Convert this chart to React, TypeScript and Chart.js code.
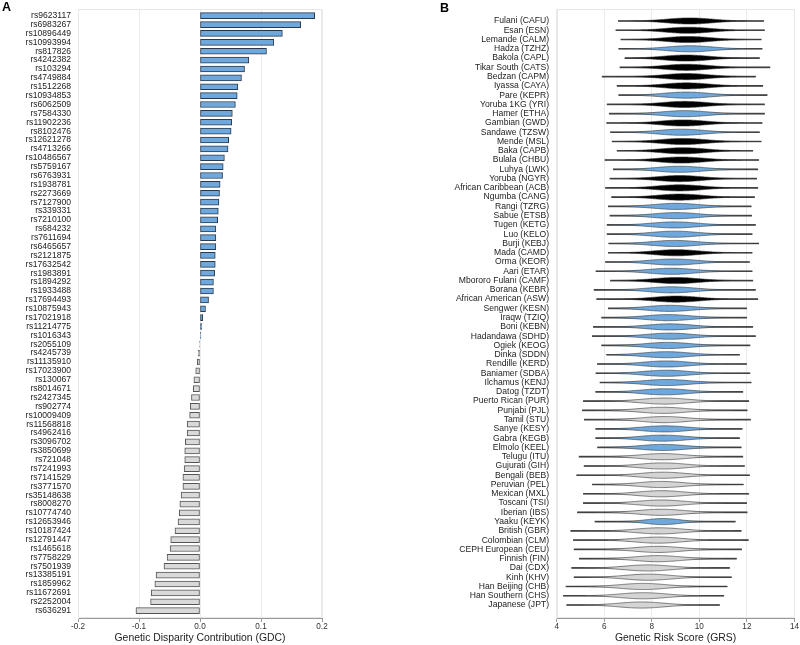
import { useEffect, useRef } from 'react';
import { Chart, registerables } from 'chart.js';
Chart.register(...registerables);

const FONT = "'Liberation Sans', Arial, Helvetica, sans-serif";
Chart.defaults.font.family = FONT;

// ---------- Panel A data ----------
const snpLabels = [
  'rs9623117','rs6983267','rs10896449','rs10993994','rs817826','rs4242382','rs103294','rs4749884',
  'rs1512268','rs10934853','rs6062509','rs7584330','rs11902236','rs8102476','rs12621278','rs4713266',
  'rs10486567','rs5759167','rs6763931','rs1938781','rs2273669','rs7127900','rs339331','rs7210100',
  'rs684232','rs7611694','rs6465657','rs2121875','rs17632542','rs1983891','rs1894292','rs1933488',
  'rs17694493','rs10875943','rs17021918','rs11214775','rs1016343','rs2055109','rs4245739','rs11135910',
  'rs17023900','rs130067','rs8014671','rs2427345','rs902774','rs10009409','rs11568818','rs4962416',
  'rs3096702','rs3850699','rs721048','rs7241993','rs7141529','rs3771570','rs35148638','rs8008270',
  'rs10774740','rs12653946','rs10187424','rs12791447','rs1465618','rs7758229','rs7501939','rs13385191',
  'rs1859962','rs11672691','rs2252004','rs636291'
];
const gdcValues = [
  0.188, 0.165, 0.135, 0.121, 0.109, 0.080, 0.073, 0.068,
  0.062, 0.061, 0.058, 0.053, 0.052, 0.051, 0.047, 0.046,
  0.040, 0.038, 0.037, 0.033, 0.032, 0.031, 0.030, 0.029,
  0.026, 0.026, 0.026, 0.025, 0.025, 0.024, 0.022, 0.022,
  0.014, 0.009, 0.0045, 0.003, 0.0015, -0.001, -0.003, -0.0045,
  -0.007, -0.010, -0.011, -0.014, -0.016, -0.017, -0.021, -0.021,
  -0.024, -0.025, -0.025, -0.026, -0.028, -0.028, -0.031, -0.033,
  -0.034, -0.036, -0.041, -0.048, -0.049, -0.054, -0.059, -0.072,
  -0.074, -0.080, -0.081, -0.105
];

// ---------- Panel B data ----------
const popLabels = [
  'Fulani (CAFU)','Esan (ESN)','Lemande (CALM)','Hadza (TZHZ)','Bakola (CAPL)','Tikar South (CATS)',
  'Bedzan (CAPM)','Iyassa (CAYA)','Pare (KEPR)','Yoruba 1KG (YRI)','Hamer (ETHA)','Gambian (GWD)',
  'Sandawe (TZSW)','Mende (MSL)','Baka (CAPB)','Bulala (CHBU)','Luhya (LWK)','Yoruba (NGYR)',
  'African Caribbean (ACB)','Ngumba (CANG)','Rangi (TZRG)','Sabue (ETSB)','Tugen (KETG)','Luo (KELO)',
  'Burji (KEBJ)','Mada (CAMD)','Orma (KEOR)','Aari (ETAR)','Mbororo Fulani (CAMF)','Borana (KEBR)',
  'African American (ASW)','Sengwer (KESN)','Iraqw (TZIQ)','Boni (KEBN)','Hadandawa (SDHD)','Ogiek (KEOG)',
  'Dinka (SDDN)','Rendille (KERD)','Baniamer (SDBA)','Ilchamus (KENJ)','Datog (TZDT)','Puerto Rican (PUR)',
  'Punjabi (PJL)','Tamil (STU)','Sanye (KESY)','Gabra (KEGB)','Elmolo (KEEL)','Telugu (ITU)',
  'Gujurati (GIH)','Bengali (BEB)','Peruvian (PEL)','Mexican (MXL)','Toscani (TSI)','Iberian (IBS)',
  'Yaaku (KEYK)','British (GBR)','Colombian (CLM)','CEPH European (CEU)','Finnish (FIN)','Dai (CDX)',
  'Kinh (KHV)','Han Beijing (CHB)','Han Southern (CHS)','Japanese (JPT)'
];
// W = West/Central African, E = East African, N = non-African
const popGroup = [
  'W','W','W','E','W','W','W','W','E','W','E','W',
  'E','W','W','W','E','W','W','W','E','E','E','E',
  'E','W','E','E','W','E','W','E','E','E','E','E',
  'E','E','E','E','E','N','N','N','E','E','E','N',
  'N','N','N','N','N','N','E','N','N','N','N','N',
  'N','N','N','N'
];
const grsCenter = [
  9.59, 9.52, 9.52, 9.59, 9.45, 9.45, 9.45, 9.45, 9.45, 9.38, 9.38, 9.31,
  9.24, 9.31, 9.31, 9.24, 9.17, 9.17, 9.17, 9.17, 9.03, 9.03, 8.96, 8.96,
  8.96, 9.03, 8.89, 8.82, 9.03, 8.82, 9.03, 8.75, 8.68, 8.75, 8.75, 8.68,
  8.61, 8.61, 8.61, 8.61, 8.54, 8.54, 8.47, 8.54, 8.54, 8.47, 8.47, 8.47,
  8.47, 8.47, 8.40, 8.40, 8.40, 8.40, 8.47, 8.33, 8.26, 8.26, 8.26, 7.84,
  7.84, 7.63, 7.63, 7.56
];
const grsSpread = [
  0.95, 0.95, 0.95, 0.95, 0.95, 0.95, 0.95, 0.95, 0.95, 0.95, 0.95, 0.95,
  0.95, 0.95, 0.95, 0.95, 0.95, 0.95, 0.95, 0.95, 0.95, 0.95, 0.95, 0.95,
  0.95, 0.95, 0.95, 0.95, 0.95, 0.95, 0.95, 0.95, 0.95, 0.95, 0.95, 0.95,
  0.95, 0.95, 0.95, 0.95, 0.95, 0.95, 0.95, 0.95, 0.95, 0.95, 0.95, 0.95,
  0.95, 0.95, 0.95, 0.95, 0.95, 0.95, 0.70, 0.95, 0.95, 0.95, 0.95, 0.95,
  0.95, 0.95, 0.95, 0.95
];
const grsMin = [
  6.59, 6.49, 6.70, 6.61, 6.87, 6.66, 5.91, 6.54, 6.61, 6.12, 6.21, 6.10,
  6.26, 6.33, 6.54, 6.03, 6.38, 6.24, 6.05, 6.31, 6.17, 6.24, 6.12, 6.12,
  6.19, 6.17, 6.05, 5.65, 6.26, 5.57, 5.68, 6.17, 5.89, 5.54, 5.50, 5.89,
  6.10, 5.71, 5.65, 5.82, 5.64, 5.12, 5.08, 5.16, 5.64, 5.64, 5.72, 4.94,
  5.15, 4.84, 5.50, 5.12, 5.12, 4.87, 5.61, 4.59, 4.70, 4.73, 4.95, 4.63,
  4.73, 4.39, 4.28, 4.42
];
const grsMax = [
  12.71, 12.74, 12.60, 12.64, 12.53, 12.97, 12.36, 12.67, 12.85, 12.74, 12.74, 12.64,
  12.53, 12.60, 12.25, 12.50, 12.46, 12.41, 12.46, 12.32, 12.18, 12.20, 12.36, 12.22,
  12.50, 12.22, 12.11, 12.22, 12.25, 12.36, 12.46, 11.99, 11.99, 12.25, 12.36, 12.13,
  11.69, 11.99, 12.13, 12.18, 11.83, 12.08, 12.01, 12.15, 11.80, 11.69, 11.76, 11.83,
  11.90, 12.11, 11.85, 12.08, 11.99, 12.01, 11.51, 11.76, 12.06, 11.78, 11.56, 11.27,
  11.35, 11.17, 11.03, 10.85
];

const BLUE = '#6fa8dc';
const GROUP_FILL: Record<string, string> = { W: '#000000', E: BLUE, N: '#d4d4d4' };

const framePlugin = {
  id: 'frame',
  beforeDatasetsDraw(chart: any) {
    const { ctx, chartArea: a } = chart;
    ctx.save();
    ctx.strokeStyle = '#e8e8e8';
    ctx.lineWidth = 1;
    ctx.strokeRect(Math.round(a.left) + 0.5, Math.round(a.top) + 0.5, Math.round(a.right - a.left) - 1, Math.round(a.bottom - a.top) - 1);
    ctx.restore();
  },
};

const violinPlugin = {
  id: 'violins',
  afterDatasetsDraw(chart: any) {
    const { ctx, scales } = chart;
    const xs = scales.x, ys = scales.y;
    const rowH = Math.abs(ys.getPixelForValue(1) - ys.getPixelForValue(0));
    const h = rowH * 0.33;
    ctx.save();
    for (let i = 0; i < popLabels.length; i++) {
      const cy = ys.getPixelForValue(i);
      const mu = grsCenter[i], sd = grsSpread[i];
      const lo = grsMin[i], hi = grsMax[i];
      const steps = 160;
      const upper: [number, number][] = [];
      for (let k = 0; k <= steps; k++) {
        const v = lo + (hi - lo) * k / steps;
        const z = (v - mu) / sd;
        upper.push([xs.getPixelForValue(v), h * Math.exp(-0.5 * z * z)]);
      }
      ctx.beginPath();
      upper.forEach(([px, w], k) => (k === 0 ? ctx.moveTo(px, cy - w) : ctx.lineTo(px, cy - w)));
      for (let k = upper.length - 1; k >= 0; k--) ctx.lineTo(upper[k][0], cy + upper[k][1]);
      ctx.closePath();
      ctx.fillStyle = GROUP_FILL[popGroup[i]];
      ctx.fill();
      ctx.strokeStyle = '#333';
      ctx.lineWidth = 0.6;
      ctx.stroke();
    }
    ctx.restore();
  },
};

const tickFont = { size: 8.2, lineHeight: 1.0 };
const labelFont = { size: 8.6, lineHeight: 1.0 };
const titleFont = { size: 10.4, lineHeight: 1.2 };

const yFit = (w: number) => (s: any) => { s.width = w; s.paddingTop = 0; s.paddingBottom = 0; };

export default function App() {
  const aRef = useRef<HTMLCanvasElement>(null);
  const bRef = useRef<HTMLCanvasElement>(null);

  useEffect(() => {
    const chartA = new Chart(aRef.current as HTMLCanvasElement, {
      type: 'bar',
      data: {
        datasets: [{
          data: gdcValues.map((v, i) => ({ x: v, y: i })) as any,
          backgroundColor: gdcValues.map((v) => (v >= 0 ? BLUE : '#d9d9d9')),
          borderColor: gdcValues.map((v) => (v >= 0 ? '#2a3a4c' : '#555555')),
          borderWidth: 1,
          borderSkipped: false,
          barThickness: 6,
        }],
      },
      options: {
        indexAxis: 'y',
        animation: false,
        responsive: false,
        maintainAspectRatio: false,
        layout: { padding: { left: 0, right: 78, top: 9.3, bottom: 0 } },
        plugins: { legend: { display: false }, tooltip: { enabled: false } },
        scales: {
          x: {
            type: 'linear', min: -0.2, max: 0.2,
            ticks: {
              stepSize: 0.1, padding: 1, color: '#333', font: tickFont,
              callback: (v: any) => (Math.abs(v) < 1e-9 ? '0.0' : Number(v).toFixed(1)),
            },
            grid: { color: '#ebebeb', tickColor: '#999', tickLength: 4 },
            border: { color: '#999' },
            title: { display: true, text: 'Genetic Disparity Contribution (GDC)', color: '#222', font: titleFont, padding: { top: 0, bottom: 1 } },
            afterFit: (s: any) => { s.height = 27; },
          },
          y: {
            type: 'linear', reverse: true, min: -0.72, max: 67.83, offset: false,
            ticks: {
              stepSize: 1, autoSkip: false, includeBounds: false, padding: 7, color: '#222', font: labelFont,
              callback: (v: any) => {
                const r = Math.round(v);
                return Math.abs(v - r) < 1e-6 && r >= 0 && r < snpLabels.length ? snpLabels[r] : '';
              },
            },
            grid: { display: false, drawTicks: false },
            border: { color: '#e8e8e8' },
            afterFit: yFit(78),
          },
        },
      } as any,
      plugins: [framePlugin],
    });

    const chartB = new Chart(bRef.current as HTMLCanvasElement, {
      type: 'bar',
      data: {
        datasets: [{
          data: popLabels.map((_, i) => ({ x: [grsMin[i], grsMax[i]], y: i })) as any,
          backgroundColor: '#666',
          borderWidth: 0,
          barThickness: 1,
        }],
      },
      options: {
        indexAxis: 'y',
        animation: false,
        responsive: false,
        maintainAspectRatio: false,
        layout: { padding: { left: 0, right: 5, top: 9.3, bottom: 0 } },
        plugins: { legend: { display: false }, tooltip: { enabled: false } },
        scales: {
          x: {
            type: 'linear', min: 4, max: 14,
            ticks: { stepSize: 2, padding: 1, color: '#333', font: tickFont },
            grid: { color: '#ebebeb', tickColor: '#999', tickLength: 4 },
            border: { color: '#999' },
            title: { display: true, text: 'Genetic Risk Score (GRS)', color: '#222', font: titleFont, padding: { top: 0, bottom: 1 } },
            afterFit: (s: any) => { s.height = 27; },
          },
          y: {
            type: 'linear', reverse: true, min: -1.26, max: 64.4, offset: false,
            ticks: {
              stepSize: 1, autoSkip: false, includeBounds: false, padding: 7.7, color: '#222', font: labelFont,
              callback: (v: any) => {
                const r = Math.round(v);
                return Math.abs(v - r) < 1e-6 && r >= 0 && r < popLabels.length ? popLabels[r] : '';
              },
            },
            grid: { display: false, drawTicks: false },
            border: { color: '#e8e8e8' },
            afterFit: yFit(156.7),
          },
        },
      } as any,
      plugins: [framePlugin, violinPlugin],
    });

    return () => { chartA.destroy(); chartB.destroy(); };
  }, []);

  const letter = { position: 'absolute' as const, fontFamily: FONT, fontWeight: 'bold' as const, fontSize: 12.5, lineHeight: 1, color: '#000' };

  return (
    <div style={{ position: 'fixed', left: 0, top: 0, width: 800, height: 645, background: '#fff', overflow: 'hidden' }}>
      <canvas ref={aRef} width={400} height={645} style={{ position: 'absolute', left: 0, top: 0, width: 400, height: 645 }} />
      <canvas ref={bRef} width={400} height={645} style={{ position: 'absolute', left: 400, top: 0, width: 400, height: 645 }} />
      <div style={{ ...letter, left: 2, top: 1 }}>A</div>
      <div style={{ ...letter, left: 440, top: 1.7 }}>B</div>
    </div>
  );
}
